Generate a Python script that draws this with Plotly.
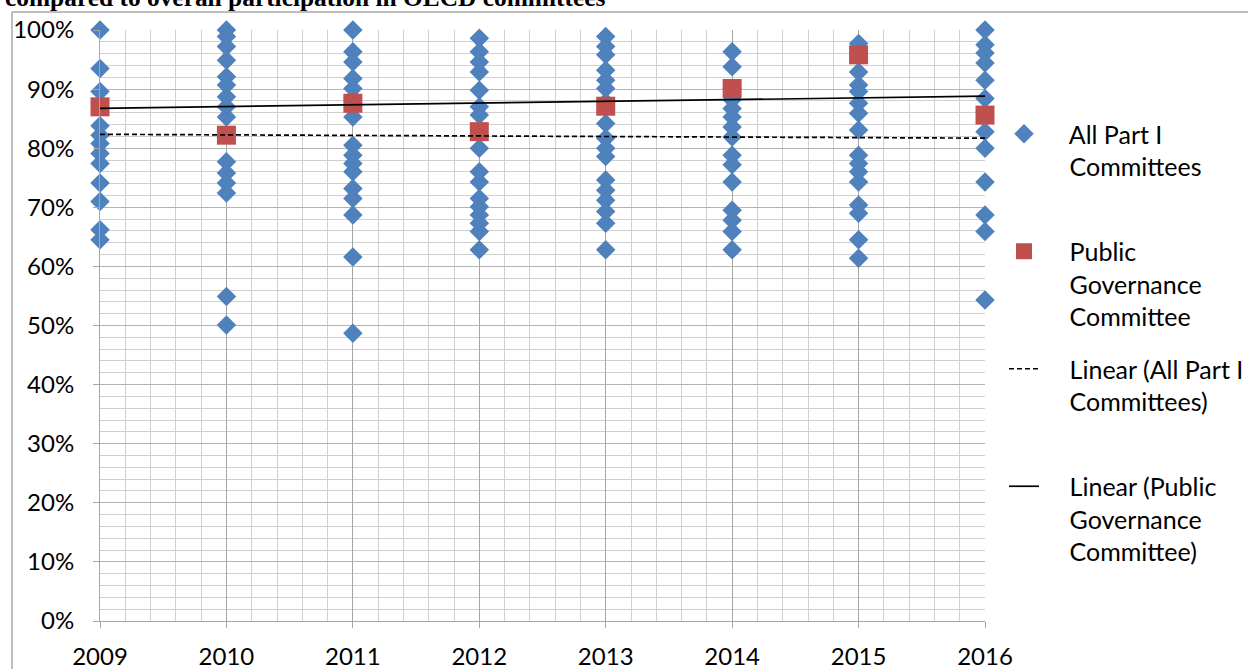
import plotly.graph_objects as go

# ---------------- data (in %) ----------------
years = [2009, 2010, 2011, 2012, 2013, 2014, 2015, 2016]

part1_2009 = [100.0, 93.5, 89.6, 83.8, 82.2, 80.8, 79.1, 77.4, 74.1, 71.0, 66.2, 64.5]
part1_2010 = [100.0, 98.9, 97.2, 94.9, 92.1, 90.7, 88.7, 87.0, 85.3, 77.7, 75.8, 74.1, 72.4, 54.9, 50.1]
part1_2011 = [100.0, 96.3, 94.6, 91.8, 90.1, 88.5, 85.3, 80.5, 78.8, 77.4, 76.0, 73.2, 71.5, 68.7, 61.6, 48.7]
part1_2012 = [98.6, 96.3, 94.6, 92.9, 89.8, 87.0, 85.6, 80.0, 76.0, 74.3, 71.5, 70.1, 68.7, 67.3, 65.9, 62.8]
part1_2013 = [98.9, 97.2, 95.8, 93.2, 91.5, 90.1, 87.8, 84.2, 81.7, 80.0, 78.6, 74.6, 72.9, 71.2, 69.3, 67.3, 62.8]
part1_2014 = [96.3, 93.8, 90.1, 88.2, 86.7, 85.3, 83.6, 81.9, 78.8, 77.2, 74.3, 69.5, 67.8, 65.9, 62.8]
part1_2015 = [97.7, 92.9, 90.7, 89.6, 87.6, 85.9, 83.1, 78.8, 77.4, 76.0, 74.3, 70.4, 69.0, 64.5, 61.4]
part1_2016 = [100.0, 97.5, 96.1, 94.4, 91.5, 88.4, 82.8, 80.0, 74.3, 68.7, 65.9, 54.3]

part1_by_year = [part1_2009, part1_2010, part1_2011, part1_2012,
                 part1_2013, part1_2014, part1_2015, part1_2016]

pgc = [87.0, 82.2, 87.6, 82.8, 87.1, 90.1, 95.8, 85.6]

trend_years = [2009, 2016]
trend_part1 = [82.35, 81.7]
trend_pgc = [86.75, 88.8]

y_ticks = [0, 10, 20, 30, 40, 50, 60, 70, 80, 90, 100]
y_tick_labels = ["0%", "10%", "20%", "30%", "40%", "50%", "60%", "70%", "80%", "90%", "100%"]

title_text = "compared to overall participation in OECD committees"

legend_names = [
    ["All Part I", "Committees", ""],
    ["Public", "Governance", "Committee"],
    ["Linear (All Part I", "Committees)", ""],
    ["Linear (Public", "Governance", "Committee)"],
]

# ---------------- figure ----------------
BLUE = "#4F81BD"
RED = "#C0504D"
FONT = "Lato"
PAD = "\u00a0" * 4
MAJOR = "#A6A6A6"
MINOR = "#D0D0D0"


def legend_label(lines):
    return "<br>".join((PAD + ln) if ln else "\u00a0" for ln in lines)


px_x, px_y = [], []
for yr, vals in zip(years, part1_by_year):
    for v in vals:
        px_x.append(yr)
        px_y.append(v)

fig = go.Figure()
fig.add_trace(go.Scatter(
    x=px_x, y=px_y, mode="markers", name=legend_label(legend_names[0]),
    marker=dict(symbol="diamond", size=15, color=BLUE, line=dict(width=0)),
    cliponaxis=False, legendgroup="a"))
fig.add_trace(go.Scatter(
    x=years, y=pgc, mode="markers", name=legend_label(legend_names[1]),
    marker=dict(symbol="square", size=19, color=RED, line=dict(width=0)),
    cliponaxis=False, legendgroup="b"))
fig.add_trace(go.Scatter(
    x=trend_years, y=trend_part1, mode="lines", name=legend_label(legend_names[2]),
    line=dict(color="black", width=1.7, dash="5px,3px"), legendgroup="c"))
fig.add_trace(go.Scatter(
    x=trend_years, y=trend_pgc, mode="lines", name=legend_label(legend_names[3]),
    line=dict(color="black", width=1.7), legendgroup="d"))

W, H = 1248, 669
L, R, T, B = 100, 263, 30, 48
pw, ph = W - L - R, H - T - B


def paper_x(px):
    return (px - L) / pw


def paper_y(py):
    return (H - B - py) / ph


fig.update_layout(
    width=W, height=H,
    margin=dict(l=L, r=R, t=T, b=B, pad=0, autoexpand=False),
    paper_bgcolor="white", plot_bgcolor="white",
    font=dict(family=FONT, size=24, color="black"),
    showlegend=True,
    legend=dict(x=paper_x(1004), xanchor="left", y=paper_y(111), yanchor="top",
                font=dict(family=FONT, size=25, color="black"),
                tracegroupgap=17, itemsizing="trace", valign="top",
                bgcolor="rgba(0,0,0,0)"),
    xaxis=dict(range=[2009, 2016], tickvals=years, ticktext=[str(y) for y in years],
               showgrid=True, gridcolor=MAJOR, gridwidth=1,
               minor=dict(dtick=0.2, showgrid=True, gridcolor=MINOR, gridwidth=1, tick0=2009),
               showline=True, linecolor=MAJOR, linewidth=1,
               ticks="outside", ticklen=6, tickcolor=MAJOR,
               zeroline=False, tickfont=dict(family=FONT, size=24),
               ticklabelstandoff=8, automargin=False),
    yaxis=dict(range=[0, 100], tickvals=y_ticks, ticktext=y_tick_labels,
               showgrid=True, gridcolor="#B4B4B4", gridwidth=1,
               minor=dict(dtick=2, showgrid=True, gridcolor=MINOR, gridwidth=1),
               showline=True, linecolor=MAJOR, linewidth=1,
               ticks="outside", ticklen=6, tickcolor=MAJOR,
               zeroline=False, tickfont=dict(family=FONT, size=24),
               ticklabelstandoff=14, automargin=False),
)

# partially visible heading above the chart
fig.add_annotation(text="<b>" + title_text + "</b>", xref="paper", yref="paper",
                   x=paper_x(3), y=paper_y(-3), xanchor="left", yanchor="middle",
                   showarrow=False,
                   font=dict(family="Liberation Serif", size=25.4, color="black"))

# chart frame (top and left edges visible)
fig.add_shape(type="line", xref="paper", yref="paper",
              x0=paper_x(12), x1=paper_x(1260), y0=paper_y(12), y1=paper_y(12),
              line=dict(color="#7F7F7F", width=1))
fig.add_shape(type="line", xref="paper", yref="paper",
              x0=paper_x(12), x1=paper_x(12), y0=paper_y(12), y1=paper_y(680),
              line=dict(color="#7F7F7F", width=1))

fig.write_html("out.html", config={"displayModeBar": False},
               post_script="document.body.style.margin='0';document.body.style.overflow='hidden';")
